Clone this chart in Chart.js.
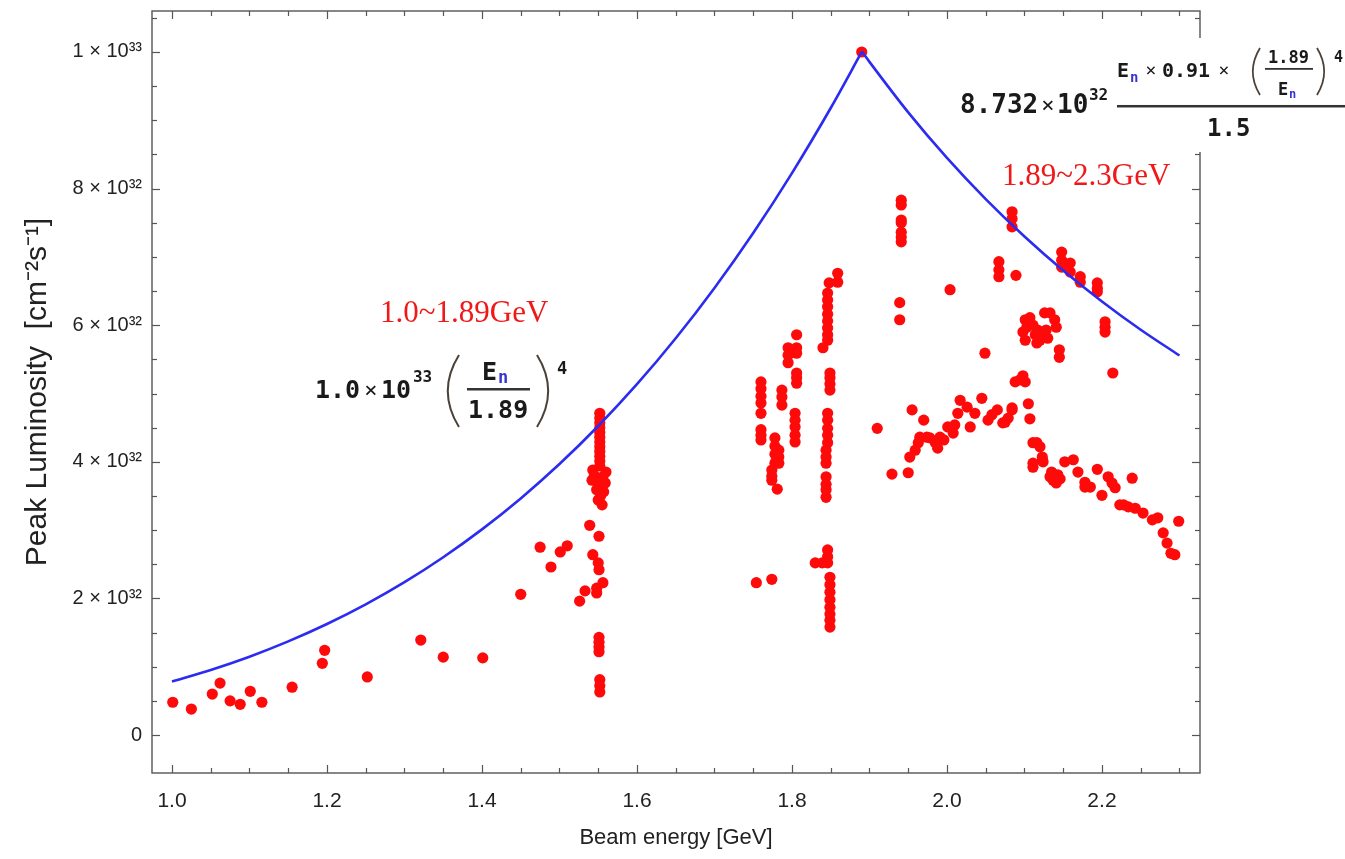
<!DOCTYPE html>
<html><head><meta charset="utf-8">
<script src="https://cdn.jsdelivr.net/npm/chart.js@4.4.1/dist/chart.umd.min.js"></script>
<style>html,body{margin:0;padding:0;background:#fff;}#wrap{width:1345px;height:859px;}</style>
</head><body><div id="wrap"><canvas id="c" width="1345" height="859"></canvas></div>
<script>
// Measured points: beam energy [GeV] and peak luminosity [10^32 cm^-2 s^-1]
const beamEnergy = [
  1.001,1.025,1.052,1.062,1.075,1.088,1.101,1.116,1.155,1.194,1.197,1.252,1.321,1.350,1.401,
  1.450,1.475,1.489,1.501,1.510,1.526,1.533,1.539,1.543,1.548,1.548,1.551,1.550,1.551,1.556,
  1.551,1.551,1.551,1.551,1.552,1.552,1.552,
  1.552,1.552,1.552,1.552,1.552,1.552,1.552,1.552,1.552,1.552,1.552,1.552,
  1.543,1.560,1.542,1.559,1.548,1.557,1.550,1.555,1.545,1.556,1.550,1.553,
  1.754,1.774,
  1.760,1.760,1.760,1.760,1.760,1.760,1.760,1.760,
  1.778,1.778,1.778,1.778,1.774,1.774,1.774,1.781,1.783,1.783,1.783,
  1.787,1.787,1.787,1.795,1.795,1.795,
  1.806,1.806,1.806,1.806,1.806,1.806,1.804,1.804,1.804,1.804,1.804,
  1.859,1.859,1.848,
  1.846,1.846,1.846,1.846,1.846,1.846,1.846,1.846,1.840,
  1.849,1.849,1.849,1.849,1.846,1.846,1.846,1.846,1.846,
  1.844,1.844,1.844,1.844,1.844,1.844,1.844,
  1.846,1.846,1.846,1.830,1.839,
  1.849,1.849,1.849,1.849,1.849,1.849,1.849,1.849,
  1.890,1.910,
  1.941,1.941,1.941,1.941,1.941,1.941,1.941,1.939,1.939,2.004,2.049,
  2.084,2.084,2.084,2.067,2.067,2.067,2.089,
  2.148,2.148,2.148,2.159,2.159,2.172,2.172,2.194,2.194,2.194,2.204,2.204,2.204,2.214,
  2.126,2.133,2.101,2.103,2.107,2.111,2.098,2.101,2.114,2.117,2.120,2.124,2.128,2.116,2.130,2.139,2.141,2.145,2.145,
  2.088,2.094,2.101,2.098,2.105,2.107,2.084,2.075,
  1.929,1.950,1.955,1.952,1.959,1.965,1.970,1.978,1.985,1.991,1.996,2.001,2.008,2.010,2.014,2.017,
  2.026,2.030,2.036,2.045,2.053,2.058,2.065,2.072,2.079,2.084,1.963,1.974,1.988,
  2.111,2.116,2.120,2.123,2.123,2.111,2.111,2.124,2.133,2.137,2.141,2.146,2.135,2.143,
  2.152,2.163,2.169,2.178,2.178,2.185,2.194,2.200,2.208,2.213,2.217,2.239,2.223,2.228,2.234,
  2.243,2.253,2.265,2.272,2.279,2.284,2.289,2.294,2.299
];
const peakLumi = [
  0.48,0.38,0.60,0.76,0.50,0.45,0.64,0.48,0.70,1.05,1.24,0.85,1.39,1.14,1.13,
  2.06,2.75,2.46,2.68,2.77,1.96,2.11,3.07,2.64,2.15,2.08,2.91,2.52,2.42,2.23,
  1.43,1.36,1.29,1.22,0.81,0.72,0.63,
  4.71,4.64,4.57,4.50,4.43,4.36,4.29,4.22,4.15,4.08,4.01,3.94,
  3.88,3.85,3.73,3.69,3.59,3.56,3.44,3.37,3.80,3.78,3.66,3.50,
  2.23,2.28,
  5.17,5.07,4.96,4.86,4.71,4.47,4.39,4.32,
  4.35,4.23,4.11,3.98,3.88,3.79,3.73,3.60,4.17,4.07,3.98,
  5.05,4.95,4.83,5.67,5.56,5.45,
  5.86,5.67,5.59,5.30,5.23,5.15,4.71,4.61,4.51,4.39,4.29,
  6.76,6.63,6.62,
  6.47,6.37,6.27,6.16,6.06,5.96,5.86,5.78,5.67,
  5.30,5.23,5.14,5.05,4.71,4.61,4.49,4.39,4.28,
  4.17,4.07,3.98,3.78,3.67,3.59,3.48,
  2.71,2.61,2.52,2.52,2.52,
  2.31,2.20,2.09,1.98,1.87,1.77,1.68,1.58,
  10.00,4.49,
  7.83,7.76,7.54,7.50,7.36,7.29,7.22,6.33,6.08,6.52,5.59,
  7.66,7.56,7.44,6.93,6.81,6.71,6.73,
  7.07,6.95,6.85,6.91,6.78,6.71,6.63,6.62,6.54,6.49,6.05,5.97,5.90,5.30,
  6.18,6.18,6.08,5.97,6.11,6.00,5.90,5.78,5.86,5.93,5.78,5.89,5.93,5.74,5.81,6.08,5.97,5.64,5.53,
  5.17,5.20,5.17,5.26,4.85,4.63,4.79,4.58,
  3.82,3.84,4.76,4.07,4.17,4.36,4.61,4.35,4.28,4.36,4.32,4.51,4.42,4.54,4.71,4.90,
  4.80,4.51,4.71,4.93,4.61,4.69,4.76,4.57,4.64,4.76,4.28,4.36,4.20,
  4.28,4.28,4.22,4.07,4.03,3.98,3.92,4.00,3.78,3.73,3.69,3.75,3.85,3.81,
  4.00,4.03,3.85,3.70,3.63,3.63,3.89,3.51,3.78,3.69,3.62,3.76,3.37,3.37,3.34,
  3.32,3.25,3.15,3.18,2.96,2.81,2.66,2.64,3.13
];
// Design curve (10^32 units)
const curveLowE  = [1.00,1.05,1.10,1.15,1.20,1.25,1.30,1.35,1.40,1.45,1.50,1.55,1.60,1.65,1.70,1.75,1.80,1.85,1.89];
const curveLowL  = [0.784,0.953,1.147,1.371,1.625,1.913,2.238,2.603,3.011,3.464,3.967,4.524,5.136,5.809,6.546,7.350,8.227,9.180,10.00];
const curveHighE = [1.89,1.90,1.95,2.00,2.05,2.10,2.15,2.20,2.25,2.30];
const curveHighL = [10.01,9.855,9.116,8.449,7.846,7.299,6.801,6.348,5.934,5.556];
// Axis ticks
const xTickValues = [1.0,1.2,1.4,1.6,1.8,2.0,2.2];
const yTickValues = [0,2,4,6,8,10];
const yTickLabels = ['0','2 × 10³²','4 × 10³²','6 × 10³²','8 × 10³²','1 × 10³³'];

const pts = beamEnergy.map((e,i)=>({x:e,y:peakLumi[i]}));
const lowPts = curveLowE.map((e,i)=>({x:e,y:curveLowL[i]}));
const highPts = curveHighE.map((e,i)=>({x:e,y:curveHighL[i]}));

const BLUE = '#2b2bf2';
const MONO = "'DejaVu Sans Mono', monospace";

const framePlugin = {
  id: 'framePlugin',
  afterDatasetsDraw(chart) {
    const {ctx, chartArea: a, scales: {x, y}} = chart;
    ctx.save();
    ctx.strokeStyle = '#555';
    ctx.lineWidth = 1.4;
    ctx.strokeRect(a.left, a.top, a.right - a.left, a.bottom - a.top);
    ctx.lineWidth = 1.2;
    const line = (x1,y1,x2,y2)=>{ctx.beginPath();ctx.moveTo(x1,y1);ctx.lineTo(x2,y2);ctx.stroke();};
    for (let i = 0; i <= 26; i++) {
      const v = 1.0 + i * 0.05;
      const p = Math.round(x.getPixelForValue(v)) + 0.5;
      const L = (i % 4 === 0) ? 8 : 5;
      line(p, a.bottom, p, a.bottom - L);
      line(p, a.top, p, a.top + L);
    }
    for (let i = 0; i <= 21; i++) {
      const v = i * 0.5;
      const p = Math.round(y.getPixelForValue(v)) + 0.5;
      const L = (i % 4 === 0) ? 8 : 5;
      line(a.left, p, a.left + L, p);
      line(a.right, p, a.right - L, p);
    }

    const txt = (s, px, py, font, color, align) => {
      ctx.font = font; ctx.fillStyle = color; ctx.textAlign = align || 'left'; ctx.textBaseline = 'alphabetic';
      ctx.fillText(s, px, py);
    };
    const paren = (x0, top, bot, left, w) => {
      ctx.beginPath();
      const mid = (top + bot) / 2;
      if (left) { ctx.moveTo(x0 + w, top); ctx.quadraticCurveTo(x0 - w * 0.6, mid, x0 + w, bot); }
      else { ctx.moveTo(x0, top); ctx.quadraticCurveTo(x0 + w * 1.6, mid, x0, bot); }
      ctx.stroke();
    };

    // Region labels (red)
    const serif = "31px 'Liberation Serif', 'Times New Roman', serif";
    txt('1.0~1.89GeV', x.getPixelForValue(1.2684), y.getPixelForValue(6.047), serif, '#f01818');
    txt('1.89~2.3GeV', x.getPixelForValue(2.0710), y.getPixelForValue(8.053), serif, '#f01818');

    // Left formula: 1.0 × 10^33 (E_n / 1.89)^4
    let ax = x.getPixelForValue(1.1845), ay = y.getPixelForValue(4.934);
    const dark = '#1a1a1a';
    txt('1.0', ax, ay, "bold 25px " + MONO, dark);
    txt('×', ax + 56, ay - 1, "22px " + MONO, dark, 'center');
    txt('10', ax + 66, ay, "bold 25px " + MONO, dark);
    txt('33', ax + 98, ay - 16, "bold 16px " + MONO, dark);
    ctx.strokeStyle = '#4a4238'; ctx.lineWidth = 2;
    paren(ax + 130, ay - 43, ay + 29, true, 14);
    paren(ax + 222, ay - 43, ay + 29, false, 14);
    txt('E', ax + 167, ay - 18, "bold 25px " + MONO, dark);
    txt('n', ax + 183, ay - 15, "bold 17px " + MONO, '#3535d0');
    ctx.fillStyle = '#333'; ctx.fillRect(ax + 152, ay - 10, 63, 2.5);
    txt('1.89', ax + 153, ay + 20, "bold 25px " + MONO, dark);
    txt('4', ax + 242, ay - 24, "bold 17px " + MONO, dark);

    // Right formula with white background
    ax = x.getPixelForValue(2.0168); ay = y.getPixelForValue(9.107);
    ctx.fillStyle = '#ffffff';
    ctx.fillRect(ax - 5, ay - 75, 400, 114);
    txt('8.732', ax, ay, "bold 26px " + MONO, dark);
    txt('×', ax + 88, ay - 1, "22px " + MONO, dark, 'center');
    txt('10', ax + 97, ay, "bold 26px " + MONO, dark);
    txt('32', ax + 129, ay - 13, "bold 16px " + MONO, dark);
    ctx.fillStyle = '#333'; ctx.fillRect(ax + 157, ay - 8, 240, 2.5);
    txt('E', ax + 157, ay - 36, "bold 20px " + MONO, dark);
    txt('n', ax + 170, ay - 31, "bold 14px " + MONO, '#3535d0');
    txt('×', ax + 191, ay - 37, "18px " + MONO, dark, 'center');
    txt('0.91', ax + 202, ay - 36, "bold 20px " + MONO, dark);
    txt('×', ax + 264, ay - 37, "18px " + MONO, dark, 'center');
    ctx.strokeStyle = '#4a4238'; ctx.lineWidth = 1.8;
    paren(ax + 291, ay - 65, ay - 18, true, 9);
    paren(ax + 357, ay - 65, ay - 18, false, 9);
    txt('1.89', ax + 308, ay - 50, "bold 17px " + MONO, dark);
    ctx.fillStyle = '#333'; ctx.fillRect(ax + 305, ay - 45, 48, 1.8);
    txt('E', ax + 318, ay - 18, "bold 17px " + MONO, dark);
    txt('n', ax + 329, ay - 15, "bold 12px " + MONO, '#3535d0');
    txt('4', ax + 374, ay - 51, "bold 15px " + MONO, dark);
    txt('1.5', ax + 247, ay + 23, "bold 24px " + MONO, dark);
    ctx.restore();
  }
};

new Chart(document.getElementById('c'), {
  type: 'scatter',
  data: {
    datasets: [
      { label: 'design low', data: lowPts, showLine: true, borderColor: BLUE, borderWidth: 2.6,
        pointRadius: 0, cubicInterpolationMode: 'monotone', fill: false },
      { label: 'design high', data: highPts, showLine: true, borderColor: BLUE, borderWidth: 2.6,
        pointRadius: 0, cubicInterpolationMode: 'monotone', fill: false },
      { label: 'measured', data: pts, showLine: false, pointRadius: 5.6, pointBorderWidth: 0,
        backgroundColor: '#ff0a0a', borderColor: '#ff0a0a' }
    ]
  },
  options: {
    responsive: false,
    animation: false,
    devicePixelRatio: 1,
    layout: { padding: { left: 0, right: 145, top: 11, bottom: 0 } },
    plugins: { legend: { display: false }, tooltip: { enabled: false } },
    scales: {
      x: {
        type: 'linear', min: 0.9742, max: 2.3265,
        grid: { display: false, drawTicks: false }, border: { display: false },
        afterBuildTicks: s => { s.ticks = xTickValues.map(v => ({ value: v })); },
        afterFit: s => { s.height = 86; s.paddingLeft = 0; s.paddingRight = 0; },
        ticks: { callback: v => Number(v).toFixed(1), color: '#222', padding: 16,
                 font: { family: "'Liberation Sans', Arial, sans-serif", size: 21 }, maxRotation: 0 },
        title: { display: true, text: 'Beam energy [GeV]', color: '#222',
                 font: { family: "'Liberation Sans', Arial, sans-serif", size: 22 }, padding: { top: 0, bottom: 8 } }
      },
      y: {
        type: 'linear', min: -0.556, max: 10.60,
        grid: { display: false, drawTicks: false }, border: { display: false },
        afterBuildTicks: s => { s.ticks = yTickValues.map(v => ({ value: v })); },
        afterFit: s => { s.width = 152; s.paddingTop = 0; s.paddingBottom = 0; },
        ticks: { callback: (v) => yTickLabels[yTickValues.indexOf(v)], color: '#222', padding: 10,
                 font: { family: "'Liberation Sans', Arial, sans-serif", size: 20 } },
        title: { display: true, text: 'Peak Luminosity  [cm⁻²s⁻¹]', color: '#222',
                 font: { family: "'Liberation Sans', Arial, sans-serif", size: 30 }, padding: { top: 20, bottom: 0 } }
      }
    }
  },
  plugins: [framePlugin]
});
</script>
</body></html>
